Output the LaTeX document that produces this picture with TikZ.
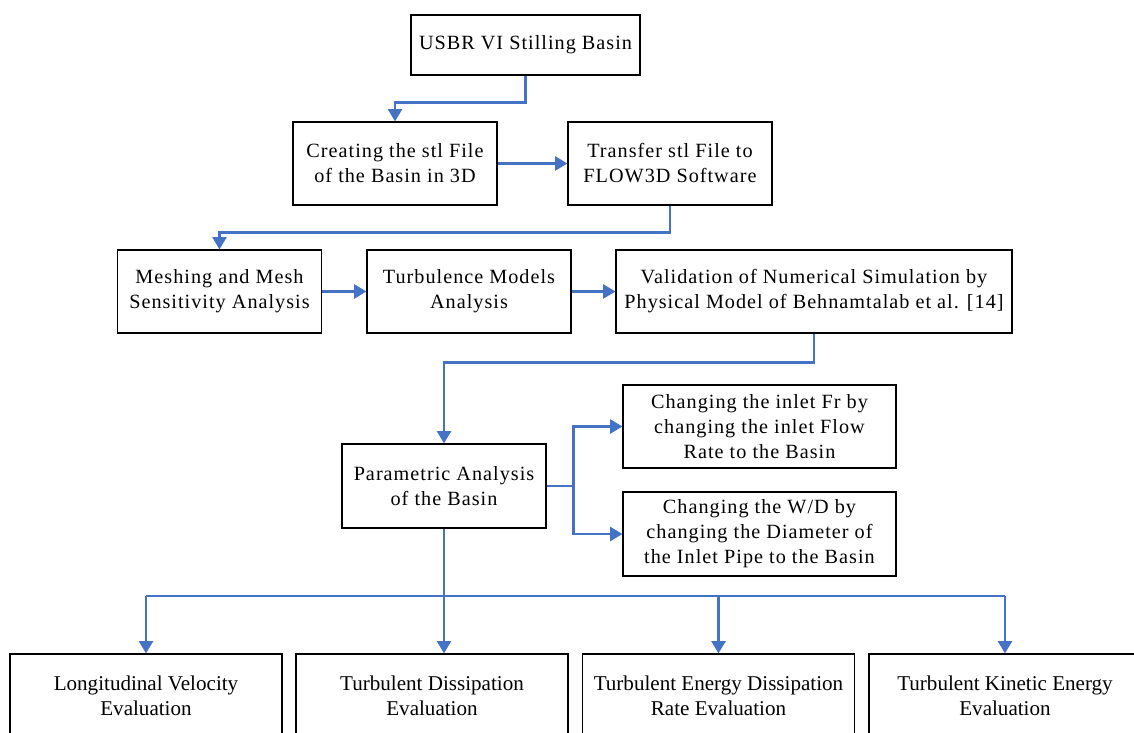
\documentclass[tikz,border=0pt]{standalone}
\usepackage{fontspec}
\setmainfont{Liberation Serif}
\newfontfamily\wideserif{Liberation Serif}[LetterSpace=5]
\usetikzlibrary{arrows.meta}
\definecolor{flowblue}{HTML}{4472C4}
\tikzset{
  box/.style={draw=black, line width=0.7pt, align=center, inner sep=0pt,
    font=\wideserif\fontsize{11.5}{14.2}\selectfont},
  evalbox/.style={box, minimum width=5.44cm, minimum height=1.8cm,
    font=\fontsize{12}{14.2}\selectfont},
  flowline/.style={draw=flowblue, line width=1.3pt},
  flow/.style={flowline, -{Triangle[length=7pt,width=8pt]}},
}
\begin{document}
\begin{tikzpicture}[x=0.02cm,y=-0.02cm]
            \useasboundingbox (0,0) rectangle (1134,733);
            \clip (0,0) rectangle (1134,733);
            % top of the chain
            \node[box, minimum width=4.58cm, minimum height=1.2cm] (usbr) at (525.5,45) {USBR VI Stilling Basin};
            \node[box, minimum width=4.08cm, minimum height=1.66cm] (create) at (395,163.5) {Creating the stl File\\of the Basin in 3D};
            \node[box, minimum width=4.08cm, minimum height=1.66cm] (transfer) at (670,163.5) {Transfer stl File to\\FLOW3D Software};
            \node[box, minimum width=4.08cm, minimum height=1.66cm] (mesh) at (219.5,291.5) {Meshing and Mesh\\Sensitivity Analysis};
            \node[box, minimum width=4.08cm, minimum height=1.66cm] (turb) at (469,291.5) {Turbulence Models\\Analysis};
            \node[box, minimum width=7.92cm, minimum height=1.66cm] (valid) at (814,291.5) {Validation of Numerical Simulation by\\Physical Model of Behnamtalab et al. [14]};
            % parametric part
            \node[box, minimum width=4.08cm, minimum height=1.68cm] (param) at (444,486) {Parametric Analysis\\of the Basin};
            \node[box, minimum width=5.46cm, minimum height=1.66cm] (fr) at (759.5,426.5) {Changing the inlet Fr by\\changing the inlet Flow\\Rate to the Basin};
            \node[box, minimum width=5.46cm, minimum height=1.68cm] (wd) at (759.5,534) {Changing the W/D by\\changing the Diameter of\\the Inlet Pipe to the Basin};
            % evaluations
            \node[evalbox] (evalA) at (146,699) {};
            \node[evalbox] (evalB) at (432,699) {};
            \node[evalbox] (evalC) at (718.5,699) {};
            \node[evalbox] (evalD) at (1005,699) {};
            \node[align=center, font=\fontsize{12}{14.2}\selectfont] at (146,696) {Longitudinal Velocity\\Evaluation};
            \node[align=center, font=\fontsize{12}{14.2}\selectfont] at (432,696) {Turbulent Dissipation\\Evaluation};
            \node[align=center, font=\fontsize{12}{14.2}\selectfont] at (718.5,696) {Turbulent Energy Dissipation\\Rate Evaluation};
            \node[align=center, font=\fontsize{12}{14.2}\selectfont] at (1005,696) {Turbulent Kinetic Energy\\Evaluation};
            % arrows
            \draw[flow] (usbr.south) -- ++(0,27) -| (create.north);
            \draw[flow] (create.east) -- (transfer.west);
            \draw[flow] (transfer.south) -- ++(0,27) -| (mesh.north);
            \draw[flow] (mesh.east) -- (turb.west);
            \draw[flow] (turb.east) -- (valid.west);
            \draw[flow] (valid.south) -- ++(0,29) -| (param.north);
            \draw[flow] (param.east) -- ++(27,0) |- (fr.west);
            \draw[flow] (param.east) -- ++(27,0) |- (wd.west);
            \coordinate (busL) at (146,596);
            \coordinate (busR) at (1005,596);
            \draw[flowline] (busL) -- (busR);
            \draw[flow] (param.south) -- (param.south |- evalB.north);
            \draw[flow] (busL) -- (evalA.north);
            \draw[flow] (evalC.north |- busL) -- (evalC.north);
            \draw[flow] (busR) -- (evalD.north);
\end{tikzpicture}
\end{document}
